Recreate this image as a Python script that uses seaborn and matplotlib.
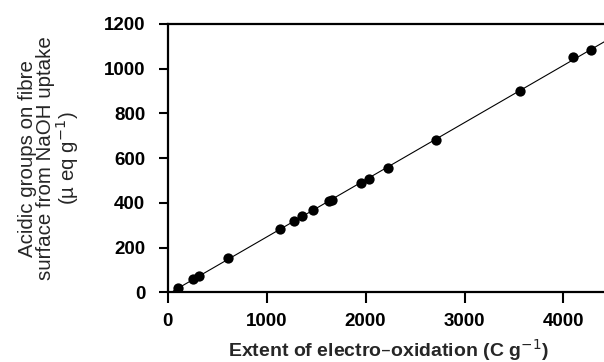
import numpy as np
import pandas as pd
import matplotlib
matplotlib.use("Agg")
import matplotlib.pyplot as plt
import seaborn as sns

# Data
extent = [101, 259, 313, 607, 1132, 1277, 1361, 1473, 1631, 1661, 1955, 2039,
          2231, 2709, 3562, 4098, 4283]
acidic = [18, 58, 73, 152, 283, 320, 340, 370, 407, 414, 487, 507,
          557, 683, 902, 1052, 1084]
fit_range = [57, 4420]
x_ticks = [0, 1000, 2000, 3000, 4000]
y_ticks = [0, 200, 400, 600, 800, 1000, 1200]

sns.set_theme(style="white")
plt.rcParams['font.family'] = ['Liberation Sans', 'DejaVu Sans']

df = pd.DataFrame({"x": extent, "y": acidic})
slope, intercept = np.polyfit(df["x"], df["y"], 1)
line_df = pd.DataFrame({"x": fit_range,
                        "y": [slope * v + intercept for v in fit_range]})

fig = plt.figure(figsize=(6.04, 3.62), dpi=100)
ax = fig.add_axes([167.7 / 604, 1 - 292.3 / 362, 1 - 167.7 / 604, (292.3 - 24) / 362])

sns.lineplot(data=line_df, x="x", y="y", ax=ax, color="black", linewidth=0.8)
sns.scatterplot(data=df, x="x", y="y", ax=ax, color="black", s=55,
                edgecolor="black", linewidth=0, zorder=3)

ax.set_xlim(0, 4410)
ax.set_ylim(0, 1200)
ax.set_xticks(x_ticks)
ax.set_yticks(y_ticks)
ax.tick_params(axis="both", direction="out", width=1.5,
               labelsize=13.5, colors="black")
ax.tick_params(axis="y", length=6.7, pad=9.5)
ax.tick_params(axis="x", length=8, pad=7)
for lab in ax.get_xticklabels() + ax.get_yticklabels():
    lab.set_fontweight("bold")
for side in ["left", "top", "bottom"]:
    ax.spines[side].set_visible(True)
    ax.spines[side].set_linewidth(1.6)
    ax.spines[side].set_color("black")
ax.spines["right"].set_visible(False)
ax.tick_params(top=False, right=False, bottom=True, left=True)

ax.set_xlabel("Extent of electro\u2013oxidation (C g$^{-1}$)", fontsize=14,
              fontweight="bold")
ax.set_ylabel("Acidic groups on fibre\nsurface from NaOH uptake\n(\u00b5 eq g$^{-1}$)",
              fontsize=14.8, linespacing=0.95)
ax.xaxis.set_label_coords(0.505, -0.168)
ax.yaxis.set_label_coords(-0.198, 0.5)

fig.savefig("out.png", dpi=100)
